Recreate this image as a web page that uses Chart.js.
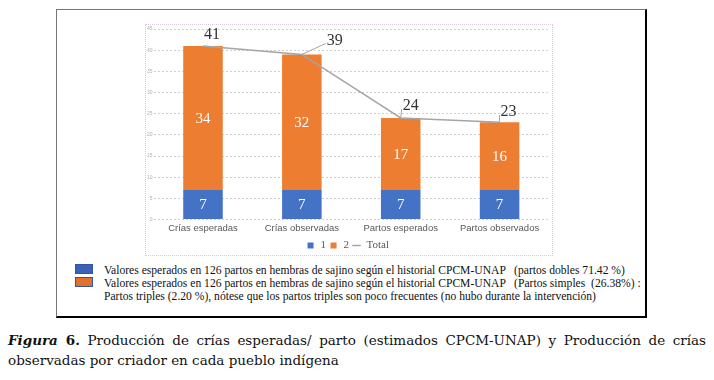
<!DOCTYPE html>
<html>
<head>
<meta charset="utf-8">
<script src="https://cdn.jsdelivr.net/npm/chart.js@4.4.1/dist/chart.umd.min.js"></script>
<style>
	body { margin: 0; width: 714px; height: 380px; background: #fff; position: relative; overflow: hidden; }
	#frame {
		position: absolute; left: 56px; top: 9px; width: 588px; height: 306px;
		border-top: 1px solid #777; border-left: 1px solid #777;
		border-right: 2px solid #000; border-bottom: 2px solid #000;
	}
	#chartBox {
		position: absolute; left: 145px; top: 24px; width: 406px; height: 230px;
		border: 1px dotted #dcc8dc;
	}
	.key { position: absolute; left: 75px; width: 16px; height: 8px; border: 1px solid #2f55a4; }
	.keyText {
		position: absolute; left: 104px; top: 264px; white-space: nowrap;
		font: 11.6px "Liberation Serif", serif; line-height: 13px; color: #111;
	}
	.cap { position: absolute; left: 8px; width: 698px; font: 13.5px "DejaVu Serif", serif; color: #111; }
</style>
</head>
<body>
<div id="frame"></div>
<div id="chartBox"><canvas id="chart"></canvas></div>
<div class="key" style="top:264px;background:#3c62b8"></div>
<div class="key" style="top:277px;background:#e0702c"></div>
<div class="keyText">
	Valores esperados en 126 partos en hembras de sajino según el historial CPCM-UNAP &nbsp; (partos dobles 71.42 %)<br>
	Valores esperados en 126 partos en hembras de sajino según el historial CPCM-UNAP &nbsp; (Partos simples &nbsp;(26.38%) :<br>
	Partos triples (2.20 %), nótese que los partos triples son poco frecuentes (no hubo durante la intervención)
</div>
<div class="cap" style="top:332px;text-align:justify;text-align-last:justify"><b><i>Figura</i> 6.</b> Producción de crías esperadas/ parto (estimados CPCM-UNAP) y Producción de crías</div>
<div class="cap" style="top:352px">observadas por criador en cada pueblo indígena</div>

<script>
const categories = ['Crías esperadas', 'Crías observadas', 'Partos esperados', 'Partos observados'];
const series1 = [7, 7, 7, 7];
const series2 = [34, 32, 17, 16];
const totals = [41, 39, 24, 23];
const yTicks = [0, 5, 10, 15, 20, 25, 30, 35, 40, 45];

// labels on bars and on the total line
const valueLabels = {
	id: 'valueLabels',
	afterDatasetsDraw(chart, args, opts) {
		const ctx = chart.ctx;
		ctx.save();
		ctx.textAlign = 'center';
		ctx.textBaseline = 'middle';
		chart.data.datasets.forEach((ds, i) => {
			const meta = chart.getDatasetMeta(i);
			if (ds.type === 'bar') {
				ctx.font = '15px "Liberation Serif", serif';
				ctx.fillStyle = '#fff';
				meta.data.forEach((el, j) => {
					ctx.fillText(ds.data[j], el.x, (el.y + el.base) / 2 + 1);
				});
			} else {
				ctx.font = '16px "Liberation Serif", serif';
				ctx.fillStyle = '#333';
				ctx.strokeStyle = '#a6a6a6';
				ctx.lineWidth = 1;
				meta.data.forEach((el, j) => {
					const off = opts.offsets[j];
					const tx = el.x + off[0], ty = el.y + off[1];
					if (off[2]) {
						const w = ctx.measureText(String(ds.data[j])).width;
						ctx.beginPath();
						ctx.moveTo(el.x, el.y);
						ctx.lineTo(tx - w / 2 - 1, ty + 3);
						ctx.stroke();
					}
					ctx.fillText(ds.data[j], tx, ty);
				});
			}
		});
		ctx.restore();
	}
};

const config = {
	data: {
		labels: categories,
		datasets: [
			{
				type: 'bar',
				label: '1',
				data: series1,
				backgroundColor: '#4472c4',
				stack: 'a',
				pointStyle: 'rect',
				order: 1,
			},
			{
				type: 'bar',
				label: '2',
				data: series2,
				backgroundColor: '#ed7d31',
				stack: 'a',
				pointStyle: 'rect',
				order: 1,
			},
			{
				type: 'line',
				label: 'Total',
				data: totals,
				borderColor: '#a5a5a5',
				backgroundColor: '#a5a5a5',
				borderWidth: 1.5,
				pointRadius: 0,
				pointStyle: 'line',
				stack: 'total',
				order: 0,
			},
		],
	},
	options: {
		responsive: true,
		maintainAspectRatio: false,
		animation: false,
		datasets: {
			bar: { categoryPercentage: 1, barPercentage: 0.4 },
		},
		layout: { padding: { top: 3, right: 3, left: 0, bottom: -6 } },
		scales: {
			x: {
				stacked: true,
				grid: { display: false, drawTicks: false },
				border: { display: false },
				ticks: {
					color: '#595959',
					font: { family: '"Liberation Sans", sans-serif', size: 9.5 },
					padding: 3,
				},
			},
			y: {
				stacked: true,
				min: 0,
				max: 45,
				afterBuildTicks: (axis) => {
					axis.ticks = yTicks.map((v) => ({ value: v }));
				},
				grid: { color: '#d0d0d0', lineWidth: 1, drawTicks: false },
				border: { display: false, dash: [2, 2] },
				ticks: {
					color: '#b0b0b0',
					font: { size: 5 },
					padding: 1,
				},
			},
		},
		plugins: {
			tooltip: { enabled: false },
			legend: {
				position: 'bottom',
				labels: {
					usePointStyle: true,
					boxWidth: 9,
					boxHeight: 6,
					padding: 3,
					color: '#595959',
					font: { family: '"Liberation Serif", serif', size: 11 },
					sort: (a, b) => a.datasetIndex - b.datasetIndex,
				},
			},
			valueLabels: {
				offsets: [[9, -11, false], [33, -14, true], [10, -12, true], [9, -10, true]],
			},
		},
	},
	plugins: [valueLabels],
};

new Chart(document.getElementById('chart'), config);
</script>
</body>
</html>
